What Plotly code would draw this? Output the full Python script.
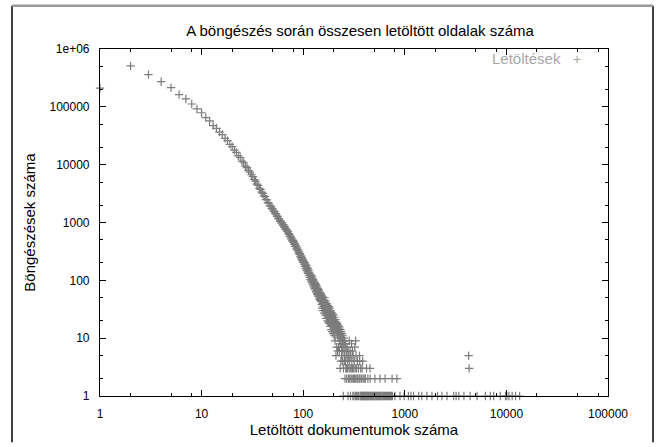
import plotly.graph_objects as go

# Number of sessions (y) for each number of downloaded documents (x = 1..150)
head_counts = [
    210000, 510000, 360000, 272000, 215000, 163000, 137000, 112000, 92000, 79000,
    65000, 57000, 47500, 42500, 36500, 33000, 28500, 26000, 22500, 20500,
    17800, 16300, 14200, 13300, 11500, 10800, 9400, 8900, 7900, 7400,
    6700, 6200, 5500, 5200, 4600, 4400, 3900, 3750, 3350, 3200,
    2900, 2800, 2500, 2450, 2200, 2150, 1950, 1920, 1750, 1730,
    1580, 1560, 1430, 1410, 1290, 1280, 1170, 1160, 1060, 1060,
    980, 990, 900, 910, 830, 840, 770, 770, 740, 700,
    690, 640, 620, 570, 580, 520, 540, 480, 495, 455,
    470, 420, 430, 385, 395, 350, 365, 325, 335, 300,
    310, 280, 290, 255, 265, 235, 250, 220, 230, 205,
    215, 190, 205, 175, 190, 160, 182, 150, 168, 140,
    158, 132, 150, 120, 138, 112, 128, 104, 122, 98,
    118, 92, 110, 86, 104, 80, 98, 76, 92, 72,
    88, 68, 84, 64, 80, 60, 76, 57, 72, 54,
    69, 52, 66, 49, 62, 47, 60, 45, 57, 43,
]
head_downloads = list(range(1, len(head_counts) + 1))

# Tail: scattered (downloads, sessions) pairs
tail_downloads = [
    151, 152, 153, 154, 155, 156, 157, 158, 159, 160, 161, 162, 163, 164, 165, 166, 167, 168, 169, 170,
    171, 172, 173, 174, 175, 176, 177, 178, 179, 180, 181, 182, 183, 184, 185, 186, 187, 188, 189, 190,
    191, 192, 193, 194, 195, 196, 197, 198, 199, 200, 202, 203, 204, 205, 206, 207, 208, 209, 210, 211,
    212, 213, 214, 215, 216, 217, 218, 219, 220, 222, 223, 224, 225, 226, 227, 228, 229, 230, 231, 232,
    233, 234, 235, 236, 237, 238, 239, 240, 242, 243, 244, 245, 246, 247, 248, 249, 250, 252, 253, 254,
    255, 256, 258, 259, 260, 262, 263, 265, 266, 268, 269, 271, 272, 274, 276, 277, 279, 280, 282, 284,
    285, 287, 289, 290, 292, 294, 296, 297, 299, 301, 303, 305, 306, 308, 310, 312, 314, 316, 318, 320,
    322, 325, 327, 328, 329, 331, 333, 335, 338, 340, 342, 345, 348, 350, 353, 356, 358, 360, 362, 365,
    368, 371, 374, 377, 380, 383, 385, 388, 391, 395, 398, 402, 405, 409, 413, 417, 420, 424, 428, 433,
    437, 442, 447, 454, 456, 460, 466, 472, 478, 485, 492, 499, 508, 512, 520, 528, 536, 545, 554, 563,
    570, 574, 585, 596, 607, 619, 631, 640, 645, 659, 674, 690, 706, 722, 738, 750, 755, 800, 836, 897,
    985, 1085, 1150, 1220, 1370, 1470, 1650, 1850, 2100, 2320, 2600, 3030, 3200, 3400, 3820, 4250, 4300, 4400,
    5140, 6200, 6940, 7500, 8700, 9800, 10100, 10600, 11400, 12300, 13500,
]
tail_counts = [
    55, 38, 48, 33, 52, 40, 30, 46, 35, 42, 27, 50, 36, 31, 44, 25, 38, 33, 22, 40,
    29, 34, 20, 37, 27, 31, 19, 35, 24, 28, 18, 33, 22, 26, 16, 30, 21, 24, 14, 28,
    19, 23, 13, 26, 17, 21, 12, 25, 16, 20, 11, 23, 15, 19, 9, 21, 14, 17, 5, 19,
    13, 16, 7, 18, 12, 15, 6, 17, 11, 14, 7, 16, 10, 13, 6, 15, 9, 12, 3, 14,
    8, 11, 4, 13, 7, 10, 5, 12, 6, 9, 4, 11, 7, 8, 1, 3, 10, 6, 8, 4,
    9, 5, 2, 7, 4, 8, 3, 6, 3, 2, 5, 7, 3, 4, 1, 6, 2, 5, 3, 9,
    4, 2, 6, 3, 1, 5, 2, 3, 8, 4, 2, 6, 3, 1, 5, 2, 3, 1, 4, 2,
    7, 3, 1, 9, 2, 5, 1, 3, 2, 1, 4, 2, 1, 3, 1, 2, 5, 4, 2, 1,
    3, 1, 2, 1, 3, 1, 4, 2, 1, 1, 2, 1, 1, 2, 1, 1, 3, 1, 1, 2,
    1, 1, 1, 3, 2, 1, 1, 1, 1, 1, 1, 1, 2, 1, 1, 1, 1, 1, 1, 1,
    2, 1, 1, 1, 1, 1, 1, 2, 1, 1, 1, 1, 1, 1, 1, 2, 1, 1, 2, 1,
    1, 1, 1, 1, 1, 1, 1, 1, 1, 1, 1, 1, 1, 1, 1, 5, 3, 1,
    1, 1, 1, 1, 1, 1, 1, 1, 1, 1, 1,
]

x_tick_vals = [1, 10, 100, 1000, 10000, 100000]
x_tick_text = ["1", "10", "100", "1000", "10000", "100000"]
y_tick_vals = [1, 10, 100, 1000, 10000, 100000, 1000000]
y_tick_text = ["1", "10", "100", "1000", "10000", "100000", "1e+06"]
x_minor_vals = [m * 10 ** d for d in range(5) for m in (2, 5, 8)]
y_minor_vals = [m * 10 ** d for d in range(6) for m in (2, 5)]

title_text = "A böngészés során összesen letöltött oldalak száma"
x_title = "Letöltött dokumentumok száma"
y_title = "Böngészések száma"
legend_label = "Letöltések"

FONT = "Liberation Sans, Arial, sans-serif"
MARK = "#7c7c7c"

fig = go.Figure()
fig.add_trace(go.Scatter(
    x=head_downloads + tail_downloads,
    y=head_counts + tail_counts,
    mode="markers",
    name=legend_label,
    cliponaxis=False,
    marker=dict(symbol="cross-thin", size=6, line=dict(width=1.2, color=MARK), color=MARK),
    showlegend=False,
))

L, R, T, B = 100, 48, 49, 45
W, H = 656, 447
pw, ph = W - L - R, H - T - B

def px(xp):
    return (xp - L) / pw

def py(yp):
    return (H - B - yp) / ph

axis_common = dict(
    type="log", showgrid=False, zeroline=False, showline=True, linecolor="black", linewidth=1.2,
    mirror="allticks", ticks="inside", ticklen=6, tickwidth=1, tickcolor="black",
    tickfont=dict(family=FONT, size=12, color="black"), tickmode="array",
)

fig.update_layout(
    width=W, height=H,
    margin=dict(l=L, r=R, t=T, b=B),
    paper_bgcolor="white", plot_bgcolor="white",
    title=dict(text=title_text, xref="paper", x=px(360), xanchor="center", y=1 - 31 / H, yanchor="middle",
               font=dict(family=FONT, size=15, color="black")),
    xaxis=dict(axis_common, range=[0, 5], tickvals=x_tick_vals, ticktext=x_tick_text,
               ticklabelstandoff=6,
               minor=dict(tickmode="array", tickvals=x_minor_vals, ticks="inside", ticklen=3,
                          tickcolor="black", tickwidth=1, showgrid=False),
               title=dict(text=x_title, font=dict(family=FONT, size=15, color="black"), standoff=4)),
    yaxis=dict(axis_common, range=[0, 6], tickvals=y_tick_vals, ticktext=y_tick_text,
               ticklabelstandoff=7,
               minor=dict(tickmode="array", tickvals=y_minor_vals, ticks="inside", ticklen=3,
                          tickcolor="black", tickwidth=1, showgrid=False),
               title=dict(text=y_title, font=dict(family=FONT, size=15, color="black"), standoff=10)),
)

# outer frame
fig.add_shape(type="line", xref="paper", yref="paper", x0=px(12), x1=px(12), y0=py(449), y1=py(5),
              line=dict(color="black", width=1.5))
fig.add_shape(type="line", xref="paper", yref="paper", x0=px(653), x1=px(653), y0=py(449), y1=py(5),
              line=dict(color="black", width=1.5))
fig.add_shape(type="line", xref="paper", yref="paper", x0=px(12), x1=px(653), y0=py(5), y1=py(5),
              line=dict(color="#9a9a9a", width=2.5))

# legend (gnuplot style: label then symbol)
fig.add_annotation(xref="paper", yref="paper", x=px(563), y=py(59), xanchor="right", yanchor="middle",
                   text=legend_label, showarrow=False,
                   font=dict(family=FONT, size=15, color="#a8a8a8"))
fig.add_annotation(xref="paper", yref="paper", x=px(577), y=py(59), xanchor="center", yanchor="middle",
                   text="+", showarrow=False,
                   font=dict(family=FONT, size=14, color="#a8a8a8"))

fig.write_html("out.html", config={"displayModeBar": False},
               post_script="document.body.style.margin='0';document.body.style.overflow='hidden';")
